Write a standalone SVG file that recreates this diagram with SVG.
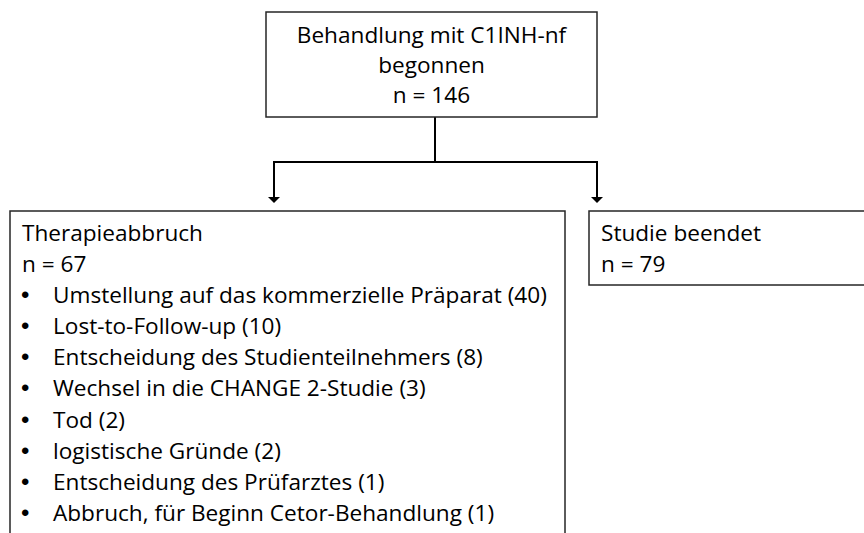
<svg xmlns="http://www.w3.org/2000/svg" width="864" height="533" viewBox="0 0 864 533">
<style>
.box{fill:#fff;stroke:#262626;stroke-width:1.5}
.t{font-family:"Open Sans","Liberation Sans",sans-serif;font-size:22.6px;fill:#000}
.c{text-anchor:middle}
.b{font-family:"Liberation Sans",sans-serif;font-size:24px;fill:#000}
.conn{fill:none;stroke:#000;stroke-width:2}
</style>
<defs>
<marker id="ah" viewBox="0 -6 6 12" refX="2" refY="0" markerWidth="6" markerHeight="12" markerUnits="userSpaceOnUse" orient="auto">
<path d="M0,-6 L6,0 L0,6 Z" fill="#000"/>
</marker>
</defs>
<rect width="864" height="533" fill="#fff"/>
<g id="connectors">
<path class="conn" d="M435,117 V162"/>
<path class="conn" d="M435,162 H274 V199" marker-end="url(#ah)"/>
<path class="conn" d="M435,162 H597 V199" marker-end="url(#ah)"/>
</g>
<g id="start">
<rect class="box" x="266" y="12" width="331" height="105"/>
<text class="t c" x="431.5" y="43">Behandlung mit C1INH-nf</text>
<text class="t c" x="431.5" y="73">begonnen</text>
<text class="t c" x="431.5" y="103">n = 146</text>
</g>
<g id="abbruch">
<rect class="box" x="10" y="211" width="555" height="340"/>
<text class="t" x="22" y="241">Therapieabbruch</text>
<text class="t" x="22" y="272">n = 67</text>
<g class="b">
<text x="21" y="303">•</text>
<text x="21" y="334">•</text>
<text x="21" y="365">•</text>
<text x="21" y="396">•</text>
<text x="21" y="428">•</text>
<text x="21" y="459">•</text>
<text x="21" y="490">•</text>
<text x="21" y="521">•</text>
</g>
<g class="t">
<text x="53" y="303">Umstellung auf das kommerzielle Präparat (40)</text>
<text x="53" y="334">Lost-to-Follow-up (10)</text>
<text x="53" y="365">Entscheidung des Studienteilnehmers (8)</text>
<text x="53" y="396">Wechsel in die CHANGE 2-Studie (3)</text>
<text x="53" y="428">Tod (2)</text>
<text x="53" y="459">logistische Gründe (2)</text>
<text x="53" y="490">Entscheidung des Prüfarztes (1)</text>
<text x="53" y="521">Abbruch, für Beginn Cetor-Behandlung (1)</text>
</g>
</g>
<g id="beendet">
<rect class="box" x="589" y="211" width="285" height="74"/>
<text class="t" x="601" y="241">Studie beendet</text>
<text class="t" x="601" y="272">n = 79</text>
</g>
</svg>
